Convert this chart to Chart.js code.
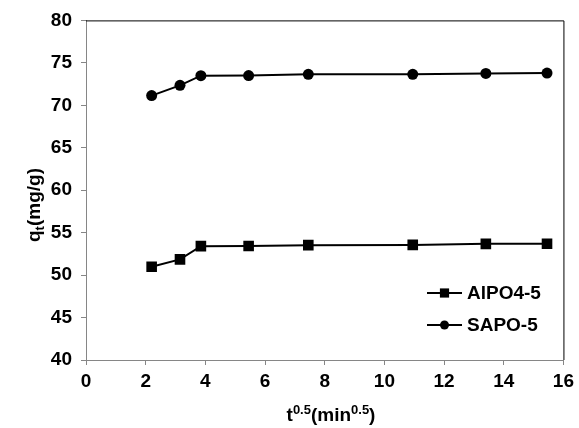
<!DOCTYPE html>
<html><head><meta charset="utf-8">
<script src="https://cdn.jsdelivr.net/npm/chart.js@4.4.0/dist/chart.umd.min.js"></script>
<style>html,body{margin:0;padding:0;background:#fff}#wrap{width:579px;height:428px}</style>
</head><body><div id="wrap"><canvas id="c"></canvas></div>
<script>
const xValues = [2.2, 3.15, 3.85, 5.45, 7.45, 10.95, 13.4, 15.45];
const alpoValues = [50.98, 51.85, 53.41, 53.42, 53.53, 53.56, 53.68, 53.69];
const sapoValues = [71.14, 72.35, 73.49, 73.5, 73.65, 73.65, 73.76, 73.8];
const seriesNames = ['AlPO4-5', 'SAPO-5'];
const xTicks = [0, 2, 4, 6, 8, 10, 12, 14, 16];
const yTicks = [40, 45, 50, 55, 60, 65, 70, 75, 80];

const FONT = '"Liberation Sans", Arial, sans-serif';
const FS = 19;
const toPts = (xs, ys) => xs.map((x, i) => ({x, y: ys[i]}));

const overlay = {
  id: 'overlay',
  afterDraw(chart) {
    const ctx = chart.ctx, a = chart.chartArea;
    ctx.save();
    // top and right borders
    ctx.strokeStyle = '#000'; ctx.lineWidth = 1;
    ctx.beginPath();
    ctx.moveTo(a.left, a.top + 0.5); ctx.lineTo(a.right + 0.5, a.top + 0.5);
    ctx.lineTo(a.right + 0.5, a.bottom);
    ctx.stroke();
    // legend
    const items = chart.data.datasets;
    const ly = [293, 325];
    items.forEach((ds, i) => {
      const y = ly[i];
      ctx.strokeStyle = '#000'; ctx.lineWidth = 2;
      ctx.beginPath(); ctx.moveTo(427, y); ctx.lineTo(462, y); ctx.stroke();
      Chart.helpers.drawPoint(ctx, {pointStyle: ds.pointStyle, radius: ds.legendRadius, borderWidth: 0}, 444.5, y);
      ctx.fillStyle = '#000';
      ctx.font = 'bold ' + FS + 'px ' + FONT;
      ctx.textBaseline = 'middle'; ctx.textAlign = 'left';
      ctx.fillText(ds.label, 467, y + 1);
    });
    // x title with superscripts
    const parts = [['t', 0], ['0.5', 1], ['(min', 0], ['0.5', 1], [')', 0]];
    const big = 'bold ' + FS + 'px ' + FONT, small = 'bold 13px ' + FONT;
    let w = 0;
    parts.forEach(p => { ctx.font = p[1] ? small : big; w += ctx.measureText(p[0]).width; });
    let x = 331 - w / 2; const by = 421;
    ctx.textBaseline = 'alphabetic';
    parts.forEach(p => {
      ctx.font = p[1] ? small : big;
      ctx.fillText(p[0], x, p[1] ? by - 7 : by);
      x += ctx.measureText(p[0]).width;
    });
    // y title
    const yparts = [['q', 0], ['t', 2], ['(mg/g)', 0]];
    w = 0;
    yparts.forEach(p => { ctx.font = p[1] ? small : big; w += ctx.measureText(p[0]).width; });
    ctx.translate(40, 205);
    ctx.rotate(-Math.PI / 2);
    x = -w / 2;
    yparts.forEach(p => {
      ctx.font = p[1] ? small : big;
      ctx.fillText(p[0], x, p[1] ? 4 : 0);
      x += ctx.measureText(p[0]).width;
    });
    ctx.restore();
  }
};

new Chart(document.getElementById('c'), {
  type: 'scatter',
  data: {
    datasets: [
      {label: seriesNames[0], data: toPts(xValues, alpoValues), showLine: true,
       borderColor: '#000', backgroundColor: '#000', borderWidth: 2,
       pointStyle: 'rect', pointRadius: 7.5, pointHoverRadius: 7.5, legendRadius: 6.5, pointBorderWidth: 0},
      {label: seriesNames[1], data: toPts(xValues, sapoValues), showLine: true,
       borderColor: '#000', backgroundColor: '#000', borderWidth: 2,
       pointStyle: 'circle', pointRadius: 5.5, pointHoverRadius: 5.5, legendRadius: 4.5, pointBorderWidth: 0}
    ]
  },
  options: {
    responsive: true, maintainAspectRatio: false, animation: false,
    layout: {padding: {top: 20, right: 12, left: 0, bottom: 0}},
    plugins: {legend: {display: false}, tooltip: {enabled: false}},
    scales: {
      x: {
        type: 'linear', min: 0, max: 16,
        afterBuildTicks: s => { s.ticks = xTicks.map(v => ({value: v})); },
        afterFit: s => { s.height = 68; },
        grid: {drawOnChartArea: false, drawTicks: true, tickLength: 5, color: '#868686'},
        border: {color: '#868686', width: 1},
        ticks: {color: '#000', font: {family: FONT, size: FS, weight: 'bold'}, padding: 5, maxRotation: 0}
      },
      y: {
        type: 'linear', min: 40, max: 80,
        afterBuildTicks: s => { s.ticks = yTicks.map(v => ({value: v})); },
        afterFit: s => { s.width = 86; },
        grid: {drawOnChartArea: false, drawTicks: true, tickLength: 5, color: '#868686'},
        border: {color: '#868686', width: 1},
        ticks: {color: '#000', font: {family: FONT, size: FS, weight: 'bold'}, padding: 9}
      }
    }
  },
  plugins: [overlay]
});
</script>
</body></html>
